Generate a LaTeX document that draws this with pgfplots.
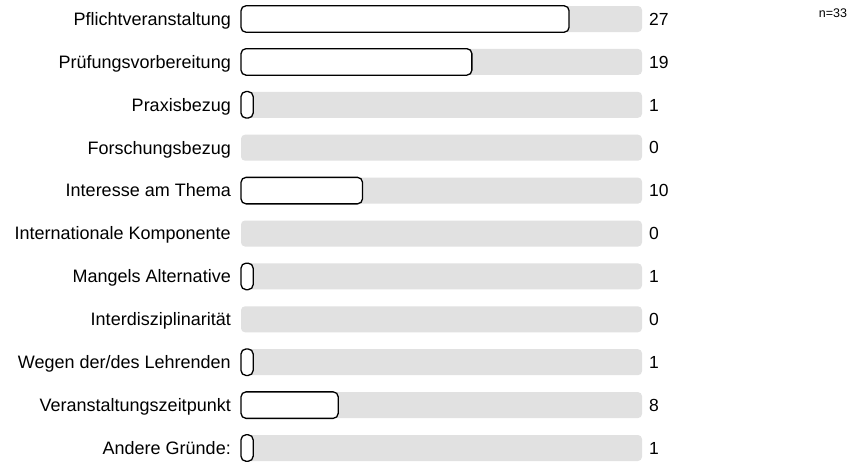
\documentclass[border=0pt]{standalone}
\usepackage{fontspec}
\setmainfont{Liberation Sans}
\usepackage{pgfplots}
\usepackage{pgfplotstable}
\pgfplotsset{compat=1.18}
\definecolor{barbg}{RGB}{225,225,225}

\pgfplotstableread{
idx full val
0 33 27
1 33 19
2 33 1
3 33 0
4 33 10
5 33 0
6 33 1
7 33 0
8 33 1
9 33 8
10 33 1
}\datatable

\begin{document}
\begin{tikzpicture}[x=1pt,y=1pt]
\useasboundingbox (0,0) rectangle (864,461);
\begin{axis}[
  at={(241pt,13pt)}, anchor=south west,
  scale only axis, width=401pt, height=429pt,
  xmin=0, xmax=33, ymin=0, ymax=10, y dir=reverse,
  enlargelimits=false, clip=false,
  axis line style={draw=none},
  xtick=\empty,
  ytick={0,1,2,3,4,5,6,7,8,9,10},
  yticklabels={Pflichtveranstaltung,Prüfungsvorbereitung,Praxisbezug,Forschungsbezug,Interesse am Thema,Internationale Komponente,Mangels Alternative,Interdisziplinarität,Wegen der/des Lehrenden,Veranstaltungszeitpunkt,Andere Gründe:},
  major tick length=0pt, tick style={draw=none},
  yticklabel style={font=\fontsize{18}{21}\selectfont, anchor=east, inner sep=0pt, text height=12.6pt, text depth=0pt, xshift=-10pt},
]
\addplot[xbar, bar shift=0pt, bar width=26pt, draw=none, fill=barbg, rounded corners=4pt,
  nodes near coords, point meta=explicit symbolic,
  nodes near coords style={font=\fontsize{17.5}{20}\selectfont, anchor=west, inner sep=0pt, text height=12.4pt, text depth=0pt, xshift=7pt, black}]
  table[x=full, y=idx, meta=val]{\datatable};
\addplot[xbar, bar shift=0pt, bar width=26.5pt, draw=black, line width=1.3pt, fill=white, rounded corners=5pt,
  restrict x to domain=0.5:100]
  table[x=val, y=idx]{\datatable};
\end{axis}
\node[font=\fontsize{12.5}{15}\selectfont, inner sep=0pt] at (833,448) {n=33};
\end{tikzpicture}
\end{document}
